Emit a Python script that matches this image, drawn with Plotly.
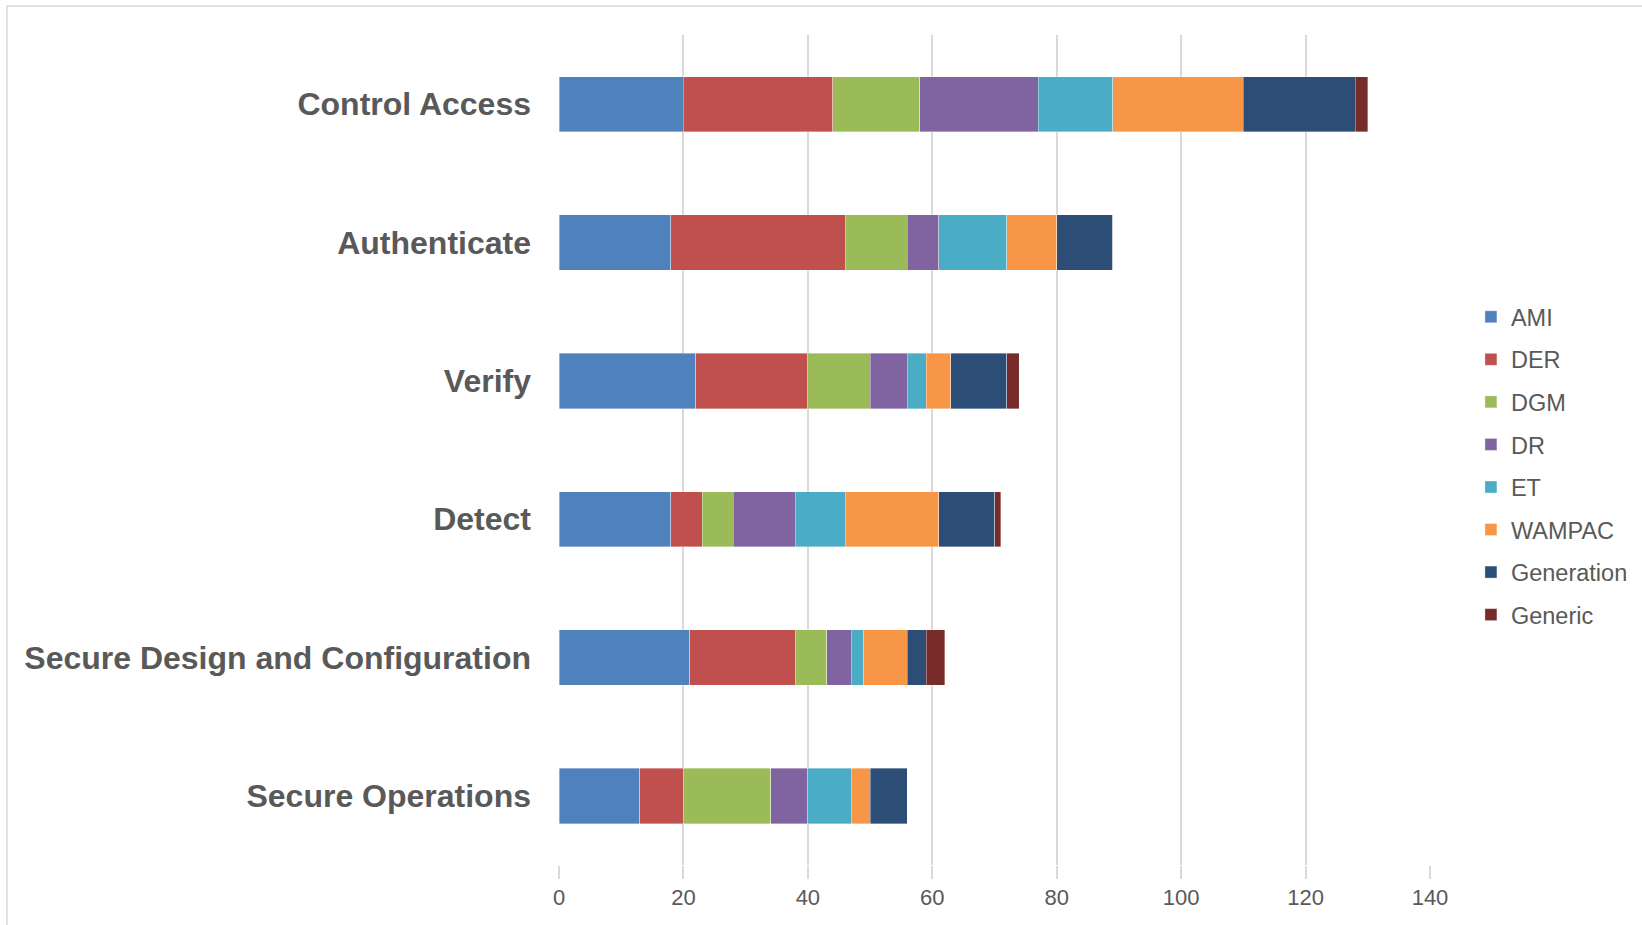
import plotly.graph_objects as go

categories = ["Control Access", "Authenticate", "Verify", "Detect",
              "Secure Design and Configuration", "Secure Operations"]
series_names = ["AMI", "DER", "DGM", "DR", "ET", "WAMPAC", "Generation", "Generic"]
ami = [20, 18, 22, 18, 21, 13]
der = [24, 28, 18, 5, 17, 7]
dgm = [14, 10, 10, 5, 5, 14]
dr = [19, 5, 6, 10, 4, 6]
et = [12, 11, 3, 8, 2, 7]
wampac = [21, 8, 4, 15, 7, 3]
generation = [18, 9, 9, 9, 3, 6]
generic = [2, 0, 2, 1, 3, 0]
x_ticks = [0, 20, 40, 60, 80, 100, 120, 140]

series_values = [ami, der, dgm, dr, et, wampac, generation, generic]
colors = ["#4F81BD", "#C0504D", "#9BBB59", "#8064A2", "#4BACC6", "#F79646", "#2C4D75", "#772C2A"]

fig = go.Figure()
for name, vals, col in zip(series_names, series_values, colors):
    fig.add_trace(go.Bar(
        y=categories, x=vals, name=name, orientation="h",
        marker=dict(color=col, line=dict(width=0.6, color="rgba(255,255,255,0.6)")),
        legendgroup=name,
    ))

W, H = 1642, 925
L, R, T, B = 559, W - 1430, 35, H - 865

fig.update_layout(
    width=W, height=H,
    barmode="stack", bargap=0.6,
    plot_bgcolor="white", paper_bgcolor="white",
    margin=dict(l=L, r=R, t=T, b=B, autoexpand=False),
    font=dict(family="Liberation Sans, Arial, sans-serif", color="#595959"),
    xaxis=dict(range=[0, 140], tickvals=x_ticks, showgrid=True, gridcolor="#D9D9D9",
               gridwidth=1.5, zeroline=False, showline=False,
               ticks="outside", ticklen=13, tickcolor="#D9D9D9", tickwidth=1.5,
               ticklabelstandoff=0,
               tickfont=dict(size=22, color="#595959"), fixedrange=True),
    yaxis=dict(categoryorder="array", categoryarray=categories, autorange="reversed",
               showgrid=False, showline=False, ticks="", ticklabelstandoff=27,
               tickfont=dict(size=32, color="#595959", family="Liberation Sans, Arial, sans-serif",
                             weight="bold"), fixedrange=True),
    legend=dict(x=1.047, xanchor="left", yref="container", y=1 - 295 / H,
                yanchor="top", traceorder="grouped", tracegroupgap=9,
                font=dict(size=23.5, color="#595959"), bgcolor="rgba(0,0,0,0)"),
    showlegend=True,
)

fig.add_shape(type="rect", xref="paper", yref="paper",
              x0=(7 - L) / (W - L - R), x1=1.5,
              y0=-0.5, y1=1 + (T - 6) / (H - T - B),
              line=dict(color="#D9D9D9", width=1.5), fillcolor="rgba(0,0,0,0)", layer="below")

fig.write_html("out.html", config={"displayModeBar": False},
               post_script='document.body.style.margin="0px";')
